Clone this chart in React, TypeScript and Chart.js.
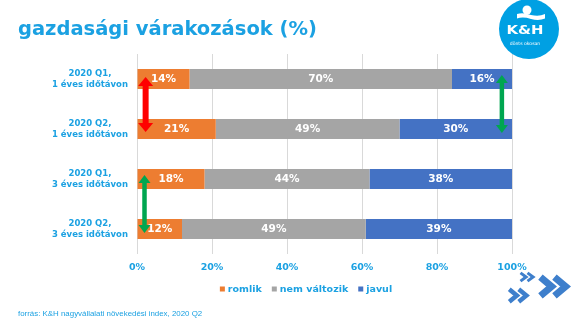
import React, { useEffect, useRef } from 'react';
import { Chart, registerables } from 'chart.js';

Chart.register(...registerables);

// ---- data ----
const categories: string[][] = [
  ['2020 Q1,', '1 éves időtávon'],
  ['2020 Q2,', '1 éves időtávon'],
  ['2020 Q1,', '3 éves időtávon'],
  ['2020 Q2,', '3 éves időtávon'],
];
const seriesNames = ['romlik', 'nem változik', 'javul'];
const romlik = [14, 21, 18, 12];
const nemValtozik = [70, 49, 44, 49];
const javul = [16, 30, 38, 39];
const xTickValues = [0, 20, 40, 60, 80, 100];
// change arrows: x position (in %), from category index to category index
const arrowX = [2.3, 97.3, 2.0];
const arrowFrom = [0, 0, 2];
const arrowTo = [1, 1, 3];
const arrowKind = ['red', 'green', 'green'];

const titleText = 'gazdasági várakozások (%)';
const sourceText = 'forrás: K&H nagyvállalati növekedési index, 2020 Q2';

// ---- styles ----
const BLUE_TEXT = '#1BA1E2';
const COLORS = ['#ED7D31', '#A5A5A5', '#4472C4'];
const FONT = '"DejaVu Sans", Verdana, sans-serif';
const arrowStyles: Record<string, any> = {
  red: { color: '#FF0000', sw: 6, hw: 15, hh: 9, ext1: 2, ext2: 3 },
  green: { color: '#00A650', sw: 4.5, hw: 12, hh: 8, ext1: 4, ext2: 4 },
};

const valueLabels = {
  id: 'valueLabels',
  afterDatasetsDraw(chart: any) {
    const ctx = chart.ctx;
    ctx.save();
    ctx.fillStyle = '#FFFFFF';
    ctx.font = `bold 10.5px ${FONT}`;
    ctx.textAlign = 'center';
    ctx.textBaseline = 'middle';
    chart.data.datasets.forEach((ds: any, i: number) => {
      const meta = chart.getDatasetMeta(i);
      meta.data.forEach((el: any, j: number) => {
        const p = el.getProps(['x', 'y', 'base'], true);
        ctx.fillText(ds.data[j] + '%', (p.x + p.base) / 2, p.y + 0.5);
      });
    });
    ctx.restore();
  },
};

function drawArrow(ctx: CanvasRenderingContext2D, x: number, y1: number, y2: number, s: any) {
  const { sw, hw, hh } = s;
  ctx.beginPath();
  ctx.moveTo(x, y1);
  ctx.lineTo(x + hw / 2, y1 + hh);
  ctx.lineTo(x + sw / 2, y1 + hh);
  ctx.lineTo(x + sw / 2, y2 - hh);
  ctx.lineTo(x + hw / 2, y2 - hh);
  ctx.lineTo(x, y2);
  ctx.lineTo(x - hw / 2, y2 - hh);
  ctx.lineTo(x - sw / 2, y2 - hh);
  ctx.lineTo(x - sw / 2, y1 + hh);
  ctx.lineTo(x - hw / 2, y1 + hh);
  ctx.closePath();
  ctx.fillStyle = s.color;
  ctx.fill();
}

const changeArrows = {
  id: 'changeArrows',
  afterDatasetsDraw(chart: any) {
    const ctx = chart.ctx;
    const xs = chart.scales.x;
    const ys = chart.scales.y;
    ctx.save();
    arrowX.forEach((v, i) => {
      const s = arrowStyles[arrowKind[i]];
      const x = xs.getPixelForValue(v);
      const y1 = ys.getPixelForValue(arrowFrom[i]) - s.ext1;
      const y2 = ys.getPixelForValue(arrowTo[i]) + s.ext2;
      drawArrow(ctx, x, y1, y2, s);
    });
    ctx.restore();
  },
};

const customLegend = {
  id: 'customLegend',
  afterDraw(chart: any) {
    const ctx = chart.ctx;
    ctx.save();
    ctx.font = `bold 9.5px ${FONT}`;
    ctx.textBaseline = 'middle';
    ctx.textAlign = 'left';
    const box = 5, gapBT = 3, gapItem = 10;
    const items = chart.data.datasets.map((d: any) => ({ label: d.label, color: d.backgroundColor }));
    const widths = items.map((it: any) => box + gapBT + ctx.measureText(it.label).width);
    const total = widths.reduce((a: number, b: number) => a + b, 0) + gapItem * (items.length - 1);
    let x = 306 - total / 2;
    const y = 289;
    items.forEach((it: any, i: number) => {
      ctx.fillStyle = it.color;
      ctx.fillRect(x, y - box / 2, box, box);
      ctx.fillStyle = BLUE_TEXT;
      ctx.fillText(it.label, x + box + gapBT, y + 0.5);
      x += widths[i] + gapItem;
    });
    ctx.restore();
  },
};

function Chevrons({ x, y, w, h }: { x: number; y: number; w: number; h: number }) {
  const sw = h * 0.3;
  const cw = w * 0.4;
  const mk = (ox: number) =>
    `${ox},${y + sw * 0.3} ${ox + cw},${y + h / 2} ${ox},${y + h - sw * 0.3}`;
  return (
    <g fill="none" stroke="#3E7FCC" strokeWidth={sw} strokeLinejoin="miter" strokeLinecap="butt">
      <polyline points={mk(x + sw / 2)} />
      <polyline points={mk(x + sw / 2 + w * 0.5)} />
    </g>
  );
}

export default function App() {
  const canvasRef = useRef<HTMLCanvasElement>(null);

  useEffect(() => {
    const canvas = canvasRef.current;
    if (!canvas) return;
    const chart = new Chart(canvas, {
      type: 'bar',
      data: {
        labels: categories,
        datasets: [
          { label: seriesNames[0], data: romlik, backgroundColor: COLORS[0], barPercentage: 0.5, categoryPercentage: 0.8 },
          { label: seriesNames[1], data: nemValtozik, backgroundColor: COLORS[1], barPercentage: 0.5, categoryPercentage: 0.8 },
          { label: seriesNames[2], data: javul, backgroundColor: COLORS[2], barPercentage: 0.5, categoryPercentage: 0.8 },
        ],
      },
      options: {
        indexAxis: 'y',
        responsive: false,
        devicePixelRatio: 1,
        animation: false,
        layout: { padding: { top: 54, right: 68, left: 0, bottom: 0 } },
        plugins: {
          legend: { display: false },
          tooltip: { enabled: false },
          title: { display: false },
        },
        scales: {
          x: {
            stacked: true,
            min: 0,
            max: 100,
            afterBuildTicks: (s: any) => {
              s.ticks = xTickValues.map((v) => ({ value: v }));
            },
            ticks: {
              callback: (v: any) => v + '%',
              color: BLUE_TEXT,
              font: { family: FONT, size: 9.5, weight: 'bold' },
              padding: 8,
              maxRotation: 0,
            },
            grid: { color: '#D9D9D9', drawTicks: false, lineWidth: 1 },
            border: { display: false },
            afterFit: (s: any) => {
              s.height = 72;
            },
          },
          y: {
            stacked: true,
            grid: { display: false, drawTicks: false },
            border: { display: false },
            ticks: {
              color: BLUE_TEXT,
              font: { family: FONT, size: 8.5, weight: 'bold', lineHeight: 1.25 },
              padding: 9,
              crossAlign: 'center',
            },
            afterFit: (s: any) => {
              s.width = 137;
            },
          },
        },
      },
      plugins: [valueLabels, changeArrows, customLegend],
    } as any);
    return () => chart.destroy();
  }, []);

  return (
    <div style={{ position: 'fixed', left: 0, top: 0, width: 580, height: 326, background: '#FFFFFF', overflow: 'hidden' }}>
      <canvas ref={canvasRef} width={580} height={326} style={{ position: 'absolute', left: 0, top: 0, width: 580, height: 326 }} />
      <div
        style={{
          position: 'absolute',
          left: 18,
          top: 19,
          fontFamily: FONT,
          fontWeight: 'bold',
          fontSize: 19.5,
          lineHeight: '20px',
          color: BLUE_TEXT,
          whiteSpace: 'nowrap',
        }}
      >
        {titleText}
      </div>
      <div
        style={{
          position: 'absolute',
          left: 18,
          top: 310,
          fontFamily: '"Liberation Sans", Arial, sans-serif',
          fontSize: 7.9,
          lineHeight: '8px',
          color: BLUE_TEXT,
          whiteSpace: 'nowrap',
        }}
      >
        {sourceText}
      </div>
      <svg width={580} height={326} style={{ position: 'absolute', left: 0, top: 0, pointerEvents: 'none' }}>
        <circle cx={529} cy={29} r={30} fill="#00A0E3" />
        <circle cx={527} cy={10} r={4.5} fill="#FFFFFF" />
        <path d="M517 14 Q523 12 531 15 Q539 17 545 14 L545 18.5 Q539 21 531 19 Q523 16.5 517 18.5 Z" fill="#FFFFFF" />
        <text x={525} y={33.5} textAnchor="middle" fontFamily={FONT} fontWeight="bold" fontSize={11.5} fill="#FFFFFF" textLength={37} lengthAdjust="spacingAndGlyphs">
          K&amp;H
        </text>
        <text x={525} y={45} textAnchor="middle" fontFamily={FONT} fontSize={4.6} fill="#FFFFFF">
          dönts okosan
        </text>
        <Chevrons x={519} y={272} w={14} h={10} />
        <Chevrons x={537} y={275} w={28} h={23} />
        <Chevrons x={507} y={288} w={19} h={15} />
      </svg>
    </div>
  );
}
